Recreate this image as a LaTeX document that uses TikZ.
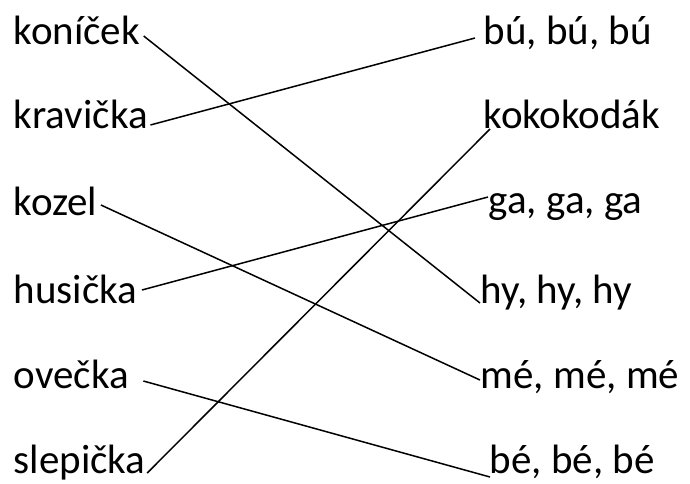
\documentclass[tikz,border=0pt]{standalone}
\usepackage{fontspec}
\setmainfont{Carlito}
\usepackage{tikz}

\begin{document}
\begin{tikzpicture}[x=1pt, y=-1pt, line width=1.5pt,
    word/.style={anchor=base west, inner sep=0pt, font=\fontsize{41}{49}\selectfont}]
    \useasboundingbox (0,0) rectangle (690,483);
    % animals
    \node[word] (kon)  at (13,44)  {koníček};
    \node[word] (krav) at (13,128) {kravička};
    \node[word] (koz)  at (13,215) {kozel};
    \node[word] (hus)  at (13,303) {husička};
    \node[word] (ove)  at (13,388) {ovečka};
    \node[word] (slep) at (13,473) {slepička};
    % sounds
    \node[word] (bu)   at (483,44)  {bú, bú, bú};
    \node[word] (koko) at (483,128) {kokokodák};
    \node[word] (ga)   at (488,213) {ga, ga, ga};
    \node[word] (hy)   at (480,303) {hy, hy, hy};
    \node[word] (me)   at (480,388) {mé, mé, mé};
    \node[word] (be)   at (489,473) {bé, bé, bé};
    % pairs
    \draw ([shift={(3,-8)}]kon.base east) -- ([shift={(0,0)}]hy.base west);
    \draw ([shift={(2,-3)}]krav.base east) -- ([shift={(-8,-6)}]bu.base west);
    \draw ([shift={(3,-10)}]koz.base east) -- ([shift={(0,-8)}]me.base west);
    \draw ([shift={(4,-13)}]hus.base east) -- ([shift={(0,-16)}]ga.base west);
    \draw ([shift={(14,-7)}]ove.base east) -- ([shift={(1,4)}]be.base west);
    \draw ([shift={(1,0)}]slep.base east) -- ([shift={(7,1)}]koko.base west);
\end{tikzpicture}
\end{document}
